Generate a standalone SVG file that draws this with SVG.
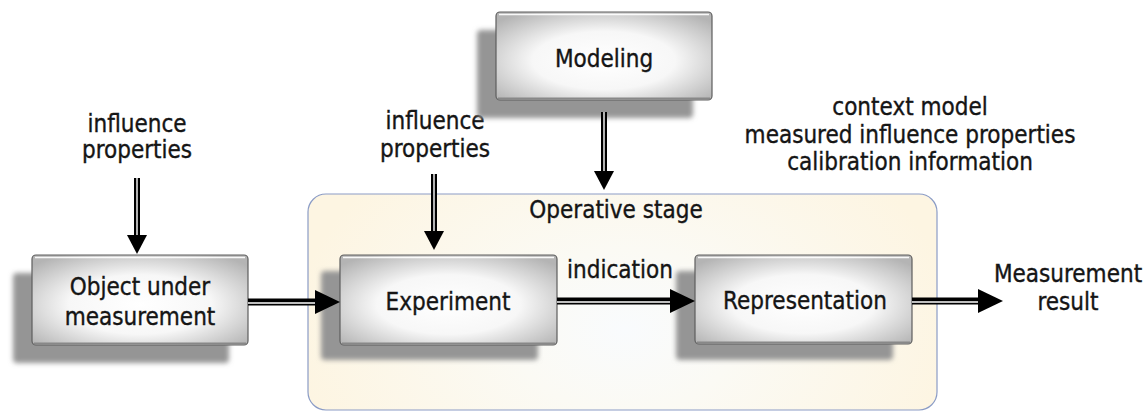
<svg xmlns="http://www.w3.org/2000/svg" width="1147" height="411" viewBox="0 0 1147 411">
  <style>
    text { font-family: "DejaVu Sans Condensed", "DejaVu Sans", sans-serif; font-size: 24px; fill: #151515; stroke: #151515; stroke-width: 0.35; text-anchor: middle; }
    .box { fill: url(#boxFill); stroke: #5e5e5e; stroke-width: 1.2; }
    .bevel { fill: none; stroke: #ffffff; stroke-opacity: 0.9; stroke-width: 1.5; }
    .base { fill: none; stroke: #888; stroke-width: 2; }
    .shadow { fill: #959595; filter: url(#soft); }
    .rail { fill: none; stroke: #000; stroke-linecap: butt; }
    .railH { stroke-width: 7; marker-end: url(#headH); }
    .railV { stroke-width: 6; marker-end: url(#headV); }
    .gap { fill: none; stroke: #fff; stroke-width: 1.4; }
  </style>
  <defs>
    <radialGradient id="boxFill" cx="0.5" cy="0.55" r="0.66">
      <stop offset="0" stop-color="#ffffff"/>
      <stop offset="0.5" stop-color="#f7f7f7"/>
      <stop offset="1" stop-color="#b4b4b4"/>
    </radialGradient>
    <radialGradient id="stageFill" gradientUnits="userSpaceOnUse" cx="625" cy="330" r="330" gradientTransform="translate(625 330) scale(1 0.7) translate(-625 -330)">
      <stop offset="0" stop-color="#f9fbfd"/>
      <stop offset="0.35" stop-color="#fbfaf4"/>
      <stop offset="1" stop-color="#fdf5e2"/>
    </radialGradient>
    <filter id="soft" x="-10%" y="-20%" width="120%" height="140%">
      <feGaussianBlur stdDeviation="2.5"/>
    </filter>
    <marker id="headH" markerUnits="userSpaceOnUse" markerWidth="26" markerHeight="26" refX="0" refY="12" orient="auto">
      <path d="M0,0 L25,12 L0,24 Z" fill="#000"/>
    </marker>
    <marker id="headV" markerUnits="userSpaceOnUse" markerWidth="20" markerHeight="22" refX="0" refY="10" orient="auto">
      <path d="M0,0 L19,10 L0,20 Z" fill="#000"/>
    </marker>
  </defs>

  <rect width="1147" height="411" fill="#ffffff"/>

  <!-- operative stage container -->
  <g id="operative-stage">
    <rect x="308" y="194" width="629" height="216" rx="18" fill="url(#stageFill)" stroke="#8b9cc6" stroke-width="1.2"/>
    <text x="616" y="218">Operative stage</text>
  </g>

  <!-- free-standing labels -->
  <g id="influence-left">
    <text x="137" y="132">influence</text>
    <text x="137" y="158">properties</text>
  </g>
  <g id="influence-mid">
    <text x="435" y="129">influence</text>
    <text x="435" y="157">properties</text>
  </g>
  <g id="context-info">
    <text x="910" y="115">context model</text>
    <text x="910" y="143">measured influence properties</text>
    <text x="910" y="170">calibration information</text>
  </g>
  <g id="measurement-result">
    <text x="1068" y="282">Measurement</text>
    <text x="1068" y="310">result</text>
  </g>

  <!-- nodes -->
  <g id="modeling">
    <rect class="shadow" x="477" y="30" width="216" height="88" rx="4"/>
    <rect class="box" x="496" y="12" width="216" height="88" rx="4"/>
    <path class="bevel" d="M499,14.5 H709"/>
    <path class="base" d="M498,98.5 H710"/>
    <text x="604" y="67">Modeling</text>
  </g>
  <g id="object-under-measurement">
    <rect class="shadow" x="13" y="273" width="216" height="90" rx="4"/>
    <rect class="box" x="32" y="255" width="216" height="90" rx="4"/>
    <path class="bevel" d="M35,257.5 H245"/>
    <path class="base" d="M34,343.5 H246"/>
    <text x="140" y="295">Object under</text>
    <text x="140" y="325">measurement</text>
  </g>
  <g id="experiment">
    <rect class="shadow" x="321" y="271" width="217" height="89" rx="4"/>
    <rect class="box" x="340" y="255" width="217" height="90" rx="4"/>
    <path class="bevel" d="M343,257.5 H554"/>
    <path class="base" d="M342,343.5 H555"/>
    <text x="448" y="310">Experiment</text>
  </g>
  <g id="representation">
    <rect class="shadow" x="676" y="271" width="217" height="89" rx="4"/>
    <rect class="box" x="695" y="255" width="217" height="89" rx="4"/>
    <path class="bevel" d="M698,257.5 H909"/>
    <path class="base" d="M697,342.5 H910"/>
    <text x="805" y="309">Representation</text>
  </g>

  <!-- connectors: double-rail arrows -->
  <g id="connectors">
    <path class="rail railV" d="M137,178 V235"/>
    <path class="gap" d="M137,178 V235"/>

    <path class="rail railV" d="M434,174 V231"/>
    <path class="gap" d="M434,174 V231"/>

    <path class="rail railV" d="M604,112 V171"/>
    <path class="gap" d="M604,112 V171"/>

    <path class="rail railH" d="M248,302 H315"/>
    <path class="gap" d="M248,303 H315"/>

    <text x="620" y="278">indication</text>
    <path class="rail railH" d="M557,301 H670"/>
    <path class="gap" d="M557,302 H670"/>

    <path class="rail railH" d="M912,301 H978"/>
    <path class="gap" d="M912,302 H978"/>
  </g>
</svg>
